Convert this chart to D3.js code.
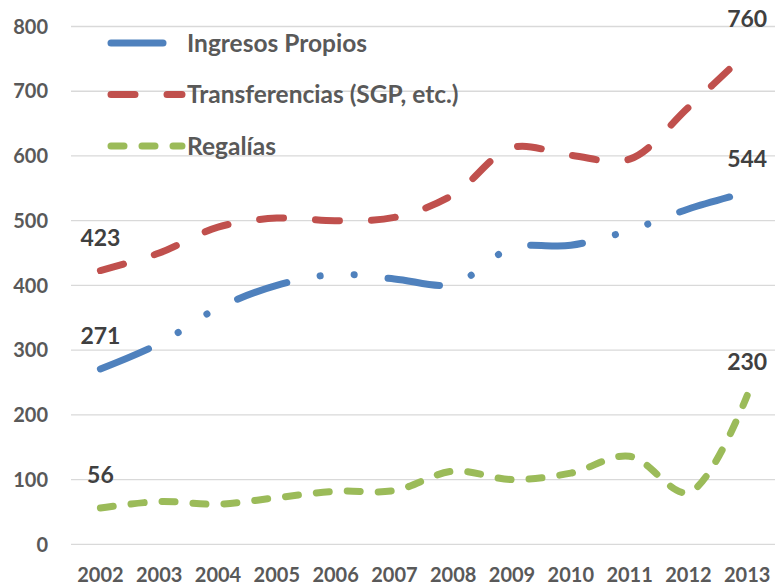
<!DOCTYPE html>
<html>
<head>
<meta charset="utf-8">
<script src="https://cdn.jsdelivr.net/npm/d3@7"></script>
<style>
  body { margin: 0; background: #fff; }
  svg { display: block; font-family: Lato, "Open Sans", sans-serif; }
</style>
</head>
<body>
<div id="chart"></div>
<script>
// data
const years = ['2002', '2003', '2004', '2005', '2006', '2007', '2008', '2009', '2010', '2011', '2012', '2013'];
const ingresosPropios = [271, 310, 365, 400, 417, 410, 402, 458, 462, 485, 518, 544];
const transferencias = [423, 450, 490, 504, 500, 505, 540, 613, 601, 595, 675, 760];
const regalias = [56, 66, 62, 72, 82, 83, 113, 100, 110, 136, 80, 230];
const yTicks = [0, 100, 200, 300, 400, 500, 600, 700, 800];

const seriesNames = ['Ingresos Propios', 'Transferencias (SGP, etc.)', 'Regalías'];
const seriesColors = ['#4F81BD', '#C0504D', '#9BBB59'];
const seriesDash = ['52,34,0.1,34,0.1,34', '24,32', '13,18'];

const width = 775, height = 586;

const svg = d3.select('#chart').append('svg')
    .attr('width', width)
    .attr('height', height);

const x = d3.scaleBand()
    .domain(years)
    .range([71, 776.6])
    .padding(0);

const y = d3.scaleLinear()
    .domain([0, 800])
    .range([544.3, 26.5]);

const cx = (d) => x(d) + x.bandwidth() / 2;

// gridlines
svg.append('g').attr('class', 'grid')
    .selectAll('line')
    .data(yTicks)
    .join('line')
    .attr('x1', 71)
    .attr('x2', width)
    .attr('y1', (d) => y(d))
    .attr('y2', (d) => y(d))
    .attr('stroke', '#D9D9D9')
    .attr('stroke-width', 1.3);

// y axis labels
svg.append('g').attr('class', 'y-labels')
    .selectAll('text')
    .data(yTicks)
    .join('text')
    .attr('x', 48)
    .attr('y', (d) => y(d))
    .attr('dy', '0.36em')
    .attr('text-anchor', 'end')
    .attr('font-size', 20)
    .attr('font-weight', 'bold')
    .attr('fill', '#595959')
    .text((d) => d);

// x axis labels
svg.append('g').attr('class', 'x-labels')
    .selectAll('text')
    .data(years)
    .join('text')
    .attr('x', (d) => cx(d))
    .attr('y', 582)
    .attr('text-anchor', 'middle')
    .attr('font-size', 20)
    .attr('font-weight', 'bold')
    .attr('fill', '#595959')
    .text((d) => d);

const series = [ingresosPropios, transferencias, regalias].map((values, i) => ({
    name: seriesNames[i],
    color: seriesColors[i],
    dash: seriesDash[i],
    values: values.map((v, j) => ({year: years[j], value: v}))
}));

const line = d3.line()
    .x((d) => cx(d.year))
    .y((d) => y(d.value))
    .curve(d3.curveCatmullRom.alpha(0.5));

svg.append('g').attr('class', 'lines')
    .selectAll('path')
    .data(series)
    .join('path')
    .attr('d', (d) => line(d.values))
    .attr('fill', 'none')
    .attr('stroke', (d) => d.color)
    .attr('stroke-width', 7)
    .attr('stroke-linecap', 'round')
    .attr('stroke-dasharray', (d) => d.dash);

// data labels on first and last points
const labelPoints = [];
series.forEach((s) => {
    labelPoints.push(s.values[0]);
    labelPoints.push(s.values[s.values.length - 1]);
});

svg.append('g').attr('class', 'data-labels')
    .selectAll('text')
    .data(labelPoints)
    .join('text')
    .attr('x', (d) => cx(d.year))
    .attr('y', (d) => y(d.value) - 25)
    .attr('text-anchor', 'middle')
    .attr('font-size', 23)
    .attr('font-weight', 'bold')
    .attr('fill', '#404040')
    .text((d) => d.value);

// legend
const legend = svg.append('g').attr('class', 'legend')
    .selectAll('g')
    .data(series)
    .join('g')
    .attr('transform', (d, i) => 'translate(' + [111, 43 + i * 51.5] + ')');

legend.append('line')
    .attr('x1', 0)
    .attr('x2', 71)
    .attr('stroke', (d) => d.color)
    .attr('stroke-width', 7)
    .attr('stroke-linecap', 'round')
    .attr('stroke-dasharray', (d) => d.dash);

legend.append('text')
    .attr('x', 76)
    .attr('dy', '0.36em')
    .attr('font-size', 24.5)
    .attr('font-weight', 'bold')
    .attr('fill', '#595959')
    .text((d) => d.name);
</script>
</body>
</html>
